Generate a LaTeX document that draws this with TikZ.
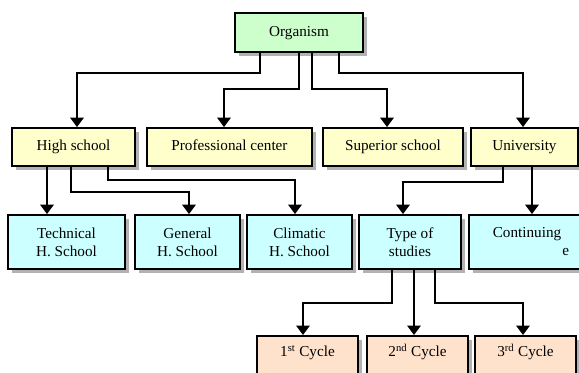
\documentclass[tikz,border=0pt]{standalone}
\usepackage{fontspec}
\setmainfont{Liberation Serif}
\usetikzlibrary{arrows.meta,shadows}
\definecolor{orggreen}{HTML}{CCFFCC}
\definecolor{lvyellow}{HTML}{FFFFCC}
\definecolor{lvcyan}{HTML}{CCFFFF}
\definecolor{lvpeach}{HTML}{FFE2CC}
\tikzset{
  box/.style={draw=black, line width=1.4pt, inner sep=0pt, align=center,
    font=\fontsize{11.4}{13.5}\selectfont,
    drop shadow={shadow xshift=3pt, shadow yshift=-3pt, fill=black!30, opacity=1}},
  oneline/.style={text height=8pt, text depth=2.5pt},
  arr/.style={draw=black, line width=1.4pt, -{Triangle[width=10pt,length=7pt]}},
}
\begin{document}
\begin{tikzpicture}[x=0.75pt, y=-0.75pt]
\clip (0,0) rectangle (579,372);
\fill[white] (0,0) rectangle (579,372);
% row 1
\node[box, oneline, fill=orggreen, minimum width=96pt, minimum height=29.25pt] (org) at (299,32.5) {Organism};
% row 2
\node[box, oneline, fill=lvyellow, minimum width=92.25pt, minimum height=28.5pt] (hs) at (73.5,147) {High school};
\node[box, oneline, fill=lvyellow, minimum width=123.75pt, minimum height=28.5pt] (pc) at (229.5,147) {Professional center};
\node[box, oneline, fill=lvyellow, minimum width=105pt, minimum height=28.5pt] (ss) at (393,147) {Superior school};
\node[box, oneline, fill=lvyellow, minimum width=80.25pt, minimum height=28.5pt] (un) at (524.5,147) {University};
% row 3
\node[box, fill=lvcyan, minimum width=87.75pt, minimum height=40.5pt] (ths) at (66.5,242) {Technical\\H. School};
\node[box, fill=lvcyan, minimum width=78.75pt, minimum height=40.5pt] (ghs) at (187.5,242) {General\\H. School};
\node[box, fill=lvcyan, minimum width=78.75pt, minimum height=40.5pt] (chs) at (299.5,242) {Climatic\\H. School};
\node[box, fill=lvcyan, minimum width=76.5pt, minimum height=40.5pt] (ts) at (410,242) {Type of\\studies};
\node[box, fill=lvcyan, minimum width=87pt, minimum height=40.5pt, align=right] (ce) at (527,242) {Continuing\\e\hspace*{-6pt}};
% row 4
\node[box, fill=lvpeach, minimum width=75.75pt, text height=15.5pt, text depth=30pt, anchor=north] (c1) at (307.5,335) {1\textsuperscript{st} Cycle};
\node[box, fill=lvpeach, minimum width=75.75pt, text height=15.5pt, text depth=30pt, anchor=north] (c2) at (417.5,335) {2\textsuperscript{nd} Cycle};
\node[box, fill=lvpeach, minimum width=75.75pt, text height=15.5pt, text depth=30pt, anchor=north] (c3) at (525.5,335) {3\textsuperscript{rd} Cycle};
% bend points
\coordinate (a1) at (260,73);  \coordinate (a2) at (77,73);
\coordinate (b1) at (299,89);  \coordinate (b2) at (224,89);
\coordinate (d1) at (312,89);  \coordinate (d2) at (387,89);
\coordinate (e1) at (339,73);  \coordinate (e2) at (523,73);
\coordinate (f1) at (47,0);
\coordinate (g1) at (71,192);  \coordinate (g2) at (189,192);
\coordinate (h1) at (108,180); \coordinate (h2) at (295,180);
\coordinate (k1) at (503,182); \coordinate (k2) at (403,182);
\coordinate (m1) at (532,0);
\coordinate (n1) at (392,303); \coordinate (n2) at (303,303);
\coordinate (p1) at (414,0);
\coordinate (q1) at (435,303); \coordinate (q2) at (523,303);
% connectors
\draw[arr] (org.south -| a1) -- (a1) -- (a2) -- (hs.north -| a2);
\draw[arr] (org.south -| b1) -- (b1) -- (b2) -- (pc.north -| b2);
\draw[arr] (org.south -| d1) -- (d1) -- (d2) -- (ss.north -| d2);
\draw[arr] (org.south -| e1) -- (e1) -- (e2) -- (un.north -| e2);
\draw[arr] (hs.south -| f1) -- (ths.north -| f1);
\draw[arr] (hs.south -| g1) -- (g1) -- (g2) -- (ghs.north -| g2);
\draw[arr] (hs.south -| h1) -- (h1) -- (h2) -- (chs.north -| h2);
\draw[arr] (un.south -| k1) -- (k1) -- (k2) -- (ts.north -| k2);
\draw[arr] (un.south -| m1) -- (ce.north -| m1);
\draw[arr] (ts.south -| n1) -- (n1) -- (n2) -- (c1.north -| n2);
\draw[arr] (ts.south -| p1) -- (c2.north -| p1);
\draw[arr] (ts.south -| q1) -- (q1) -- (q2) -- (c3.north -| q2);
\end{tikzpicture}
\end{document}
